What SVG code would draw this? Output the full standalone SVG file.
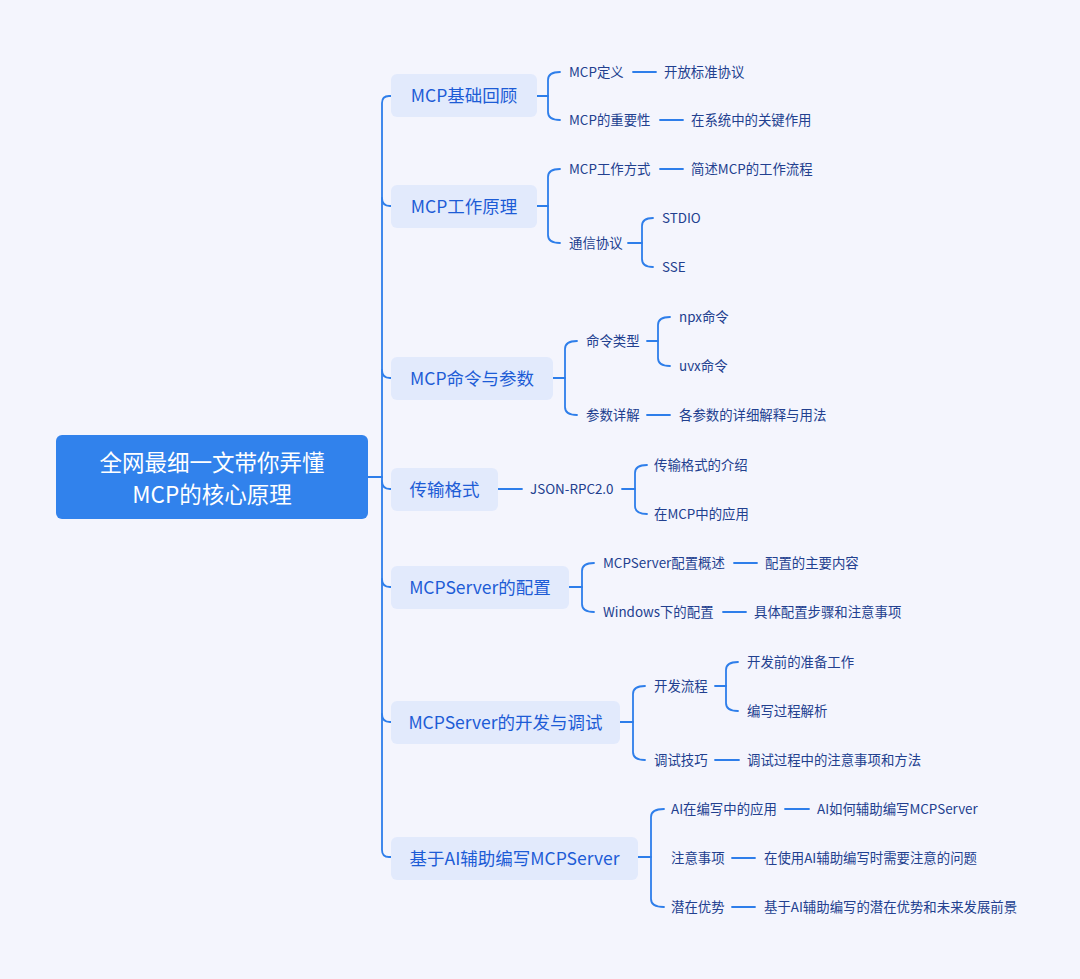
<svg xmlns="http://www.w3.org/2000/svg" width="1080" height="979" viewBox="0 0 1080 979">
<style>
.bg{fill:#F4F5FD}
.root rect{fill:#3182EC}
.root text{fill:#FFFFFF;font-family:"Noto Sans CJK SC","Noto Sans",sans-serif;font-size:22.5px;text-anchor:middle;dominant-baseline:central}
.n1 rect{fill:#E2EAFC}
.n1 text{fill:#1D5CD6;font-family:"Noto Sans CJK SC","Noto Sans",sans-serif;font-size:17.5px;text-anchor:middle;dominant-baseline:central}
.t{fill:#22408F;font-family:"Noto Sans CJK SC","Noto Sans",sans-serif;font-size:13.4px;dominant-baseline:central}
.c path,.c line{fill:none;stroke:#2E7EEA;stroke-width:1.8;stroke-linecap:round}
</style>
<rect class="bg" x="0" y="0" width="1080" height="979"/>
<g id="connectors" class="c">
<path d="M368,477 H382"/>
<path d="M392,96 H389 Q382,96 382,103 V850 Q382,857 389,857 H392"/>
<path d="M382,198 Q382,206 390,206 H392"/>
<path d="M382,370 Q382,378 390,378 H392"/>
<path d="M382,481 Q382,489 390,489 H392"/>
<path d="M382,579 Q382,587 390,587 H392"/>
<path d="M382,714 Q382,722 390,722 H392"/>
<path d="M537,96 H548"/>
<path d="M560,72 Q548,72 548,80 V112 Q548,120 560,120"/>
<line x1="633" y1="72" x2="656" y2="72"/>
<line x1="660" y1="120" x2="683" y2="120"/>
<path d="M537,206 H548"/>
<path d="M560,169 Q548,169 548,177 V235 Q548,243 560,243"/>
<line x1="660" y1="169" x2="683" y2="169"/>
<path d="M628,243 H642"/>
<path d="M653,218 Q642,218 642,226 V259 Q642,267 653,267"/>
<path d="M553,378 H565"/>
<path d="M577,341 Q565,341 565,349 V407 Q565,415 577,415"/>
<path d="M647,341 H658"/>
<path d="M670,317 Q658,317 658,325 V358 Q658,366 670,366"/>
<line x1="647" y1="415" x2="670" y2="415"/>
<line x1="498" y1="489" x2="522" y2="489"/>
<path d="M622,489 H635"/>
<path d="M647,465 Q635,465 635,473 V506 Q635,514 647,514"/>
<path d="M569,587 H582"/>
<path d="M594,563 Q582,563 582,571 V604 Q582,612 594,612"/>
<line x1="734" y1="563" x2="757" y2="563"/>
<line x1="723" y1="612" x2="746" y2="612"/>
<path d="M620,722 H633"/>
<path d="M645,686 Q633,686 633,694 V752 Q633,760 645,760"/>
<path d="M715,686 H726"/>
<path d="M738,662 Q726,662 726,670 V703 Q726,711 738,711"/>
<line x1="715" y1="760" x2="739" y2="760"/>
<path d="M638,857 H651"/>
<path d="M664,809 Q651,809 651,817 V899 Q651,907 664,907"/>
<line x1="785" y1="809" x2="809" y2="809"/>
<line x1="732" y1="858" x2="755" y2="858"/>
<line x1="732" y1="907" x2="755" y2="907"/>
</g>
<g id="root" class="root">
<rect x="56" y="435" width="312" height="84" rx="6"/>
<text x="212" y="461">全网最细一文带你弄懂</text>
<text x="212" y="493">MCP的核心原理</text>
</g>
<g id="n1" class="n1"><rect x="391" y="74" width="146" height="43" rx="6"/><text x="464" y="94.5">MCP基础回顾</text></g>
<g id="n2" class="n1"><rect x="391" y="185" width="146" height="43" rx="6"/><text x="464" y="205.5">MCP工作原理</text></g>
<g id="n3" class="n1"><rect x="391" y="357" width="162" height="43" rx="6"/><text x="472" y="377.5">MCP命令与参数</text></g>
<g id="n4" class="n1"><rect x="391" y="468" width="107" height="43" rx="6"/><text x="444.5" y="488.5">传输格式</text></g>
<g id="n5" class="n1"><rect x="391" y="566" width="178" height="43" rx="6"/><text x="480" y="586.5">MCPServer的配置</text></g>
<g id="n6" class="n1"><rect x="391" y="701" width="229" height="43" rx="6"/><text x="505.5" y="721.5">MCPServer的开发与调试</text></g>
<g id="n7" class="n1"><rect x="391" y="837" width="247" height="43" rx="6"/><text x="514.5" y="857.5">基于AI辅助编写MCPServer</text></g>
<g id="leaves">
<text class="t" x="569" y="71">MCP定义</text>
<text class="t" x="664" y="71">开放标准协议</text>
<text class="t" x="569" y="119">MCP的重要性</text>
<text class="t" x="691" y="119">在系统中的关键作用</text>
<text class="t" x="569" y="168">MCP工作方式</text>
<text class="t" x="691" y="168">简述MCP的工作流程</text>
<text class="t" x="569" y="242">通信协议</text>
<text class="t" x="662" y="217">STDIO</text>
<text class="t" x="662" y="266">SSE</text>
<text class="t" x="586" y="340">命令类型</text>
<text class="t" x="679" y="316">npx命令</text>
<text class="t" x="679" y="365">uvx命令</text>
<text class="t" x="586" y="414">参数详解</text>
<text class="t" x="679" y="414">各参数的详细解释与用法</text>
<text class="t" x="530" y="488">JSON-RPC2.0</text>
<text class="t" x="654" y="464">传输格式的介绍</text>
<text class="t" x="654" y="513">在MCP中的应用</text>
<text class="t" x="603" y="562">MCPServer配置概述</text>
<text class="t" x="765" y="562">配置的主要内容</text>
<text class="t" x="603" y="611">Windows下的配置</text>
<text class="t" x="754" y="611">具体配置步骤和注意事项</text>
<text class="t" x="654" y="685">开发流程</text>
<text class="t" x="747" y="661">开发前的准备工作</text>
<text class="t" x="747" y="710">编写过程解析</text>
<text class="t" x="654" y="759">调试技巧</text>
<text class="t" x="747" y="759">调试过程中的注意事项和方法</text>
<text class="t" x="671" y="808">AI在编写中的应用</text>
<text class="t" x="817" y="808">AI如何辅助编写MCPServer</text>
<text class="t" x="671" y="857">注意事项</text>
<text class="t" x="764" y="857">在使用AI辅助编写时需要注意的问题</text>
<text class="t" x="671" y="906">潜在优势</text>
<text class="t" x="764" y="906">基于AI辅助编写的潜在优势和未来发展前景</text>
</g>
</svg>
